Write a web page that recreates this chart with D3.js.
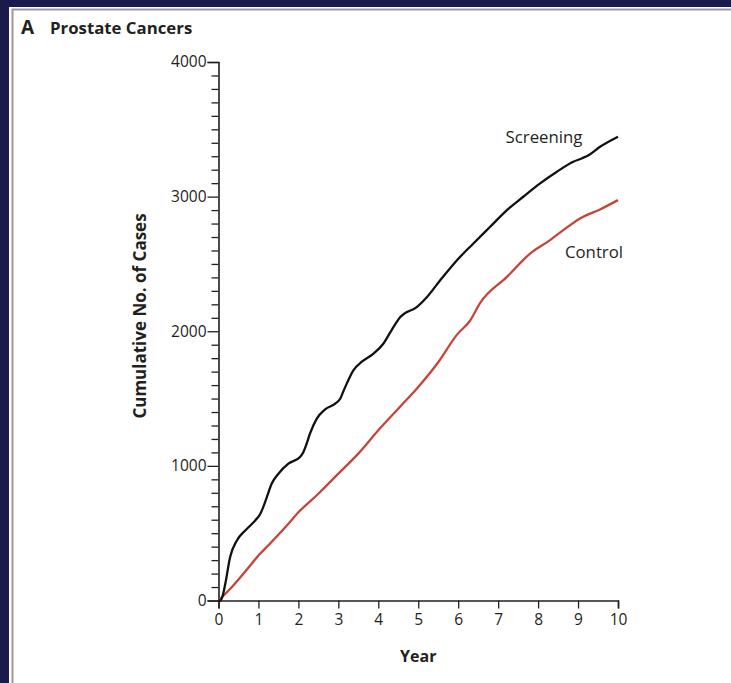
<!DOCTYPE html>
<html><head><meta charset="utf-8">
<script src="https://cdn.jsdelivr.net/npm/d3@7"></script>
<style>
html,body{margin:0;padding:0;background:#1b1a4c;overflow:hidden;}
svg{display:block;}
text{font-family:"Open Sans","Noto Sans",sans-serif;fill:#231f20;}
</style></head><body>
<svg id="chart" width="731" height="683"></svg>
<script>
const title = "Prostate Cancers";
const panelLetter = "A";
const xLabel = "Year";
const yLabel = "Cumulative No. of Cases";
const xTicks = [0,1,2,3,4,5,6,7,8,9,10];
const yTicks = [0,1000,2000,3000,4000];
const seriesNames = ["Screening","Control"];

const screeningYears = [0,0.05,0.1,0.17,0.29,0.46,0.67,0.92,1.04,1.1,1.21,1.33,1.5,1.75,2.04,2.12,2.2,2.29,2.46,2.67,2.92,3.05,3.12,3.21,3.375,3.58,3.88,4.13,4.33,4.55,4.97,5.22,5.55,5.97,6.38,6.8,7.22,7.63,8.05,8.47,8.88,9.1,9.25,9.55,10];
const screeningValues = [0,0,30,124,322,446,520,595,640,680,768,867,942,1016,1066,1100,1160,1239,1351,1420,1462,1500,1550,1611,1710,1772,1834,1909,2007,2106,2181,2255,2379,2528,2652,2776,2900,2999,3098,3185,3259,3285,3305,3370,3445];

const controlYears = [0,0.33,0.83,1.0,1.25,1.75,2.0,2.5,3.0,3.5,4.0,4.5,5.0,5.5,5.97,6.3,6.55,7.22,7.8,8.3,8.63,9.05,9.55,10];
const controlValues = [0,99,273,335,410,570,655,793,942,1091,1264,1425,1586,1770,1975,2080,2210,2404,2577,2677,2751,2838,2905,2974];

const svg = d3.select("#chart");

// panel frame
svg.append("rect").attr("x",9).attr("y",7).attr("width",731).attr("height",683).attr("fill","#fff");
svg.append("path").attr("d","M12.5,683 V9.5 H731").attr("fill","none").attr("stroke","#9a9a9a").attr("stroke-width",2);

const x = d3.scaleLinear().domain([0,10]).range([218.5,618]);
const y = d3.scaleLinear().domain([0,4000]).range([600.5,62]);

// title
svg.append("text").attr("x",21).attr("y",34).style("font-weight","700").style("font-size","19px").text(panelLetter);
svg.append("text").attr("x",50).attr("y",34).style("font-weight","700").style("font-size","16.8px").text(title);

// y axis
const yAxis = d3.axisLeft(y).tickValues(yTicks).tickSize(11).tickPadding(1).tickFormat(d3.format("d"));
const gy = svg.append("g").attr("transform","translate(218.5,0)").call(yAxis);
gy.select(".domain").attr("stroke","#231f20").attr("stroke-width",1.6);
gy.selectAll(".tick line").attr("stroke","#231f20").attr("stroke-width",1.3);
gy.selectAll(".tick text").style("font-size","15.5px").attr("fill","#231f20");
const yMinor = d3.axisLeft(y).tickValues(d3.range(100,4000,100).filter(v=>v%1000!==0)).tickSize(7).tickFormat("");
const gym = svg.append("g").attr("transform","translate(218.5,0)").call(yMinor);
gym.select(".domain").remove();
gym.selectAll(".tick line").attr("stroke","#231f20").attr("stroke-width",1.3);

// x axis
const xAxis = d3.axisBottom(x).tickValues(xTicks).tickSize(8).tickPadding(5).tickFormat(d3.format("d"));
const gx = svg.append("g").attr("transform","translate(0,600.5)").call(xAxis);
gx.select(".domain").attr("stroke","#231f20").attr("stroke-width",1.6);
gx.selectAll(".tick line").attr("stroke","#231f20").attr("stroke-width",1.3);
gx.selectAll(".tick text").style("font-size","15.5px").attr("fill","#231f20");

// axis labels
svg.append("text").attr("x",x(5)).attr("y",662).attr("text-anchor","middle").style("font-weight","700").style("font-size","16px").text(xLabel);
svg.append("text").attr("transform","translate(146,316) rotate(-90)").attr("text-anchor","middle").style("font-weight","700").style("font-size","17px").text(yLabel);

// lines
const line = d3.line().x(d=>x(d[0])).y(d=>y(d[1])).curve(d3.curveMonotoneX);
const screening = screeningYears.map((t,i)=>[t,screeningValues[i]]);
const control = controlYears.map((t,i)=>[t,controlValues[i]]);
svg.append("path").datum(control).attr("d",line).attr("fill","none").attr("stroke","#c4453a").attr("stroke-width",2.3);
svg.append("path").datum(screening).attr("d",line).attr("fill","none").attr("stroke","#111").attr("stroke-width",2.3);

// series labels
svg.append("text").attr("x",544).attr("y",143).attr("text-anchor","middle").style("font-size","16.8px").text(seriesNames[0]);
svg.append("text").attr("x",594).attr("y",258).attr("text-anchor","middle").style("font-size","16.8px").text(seriesNames[1]);
</script>
</body></html>
